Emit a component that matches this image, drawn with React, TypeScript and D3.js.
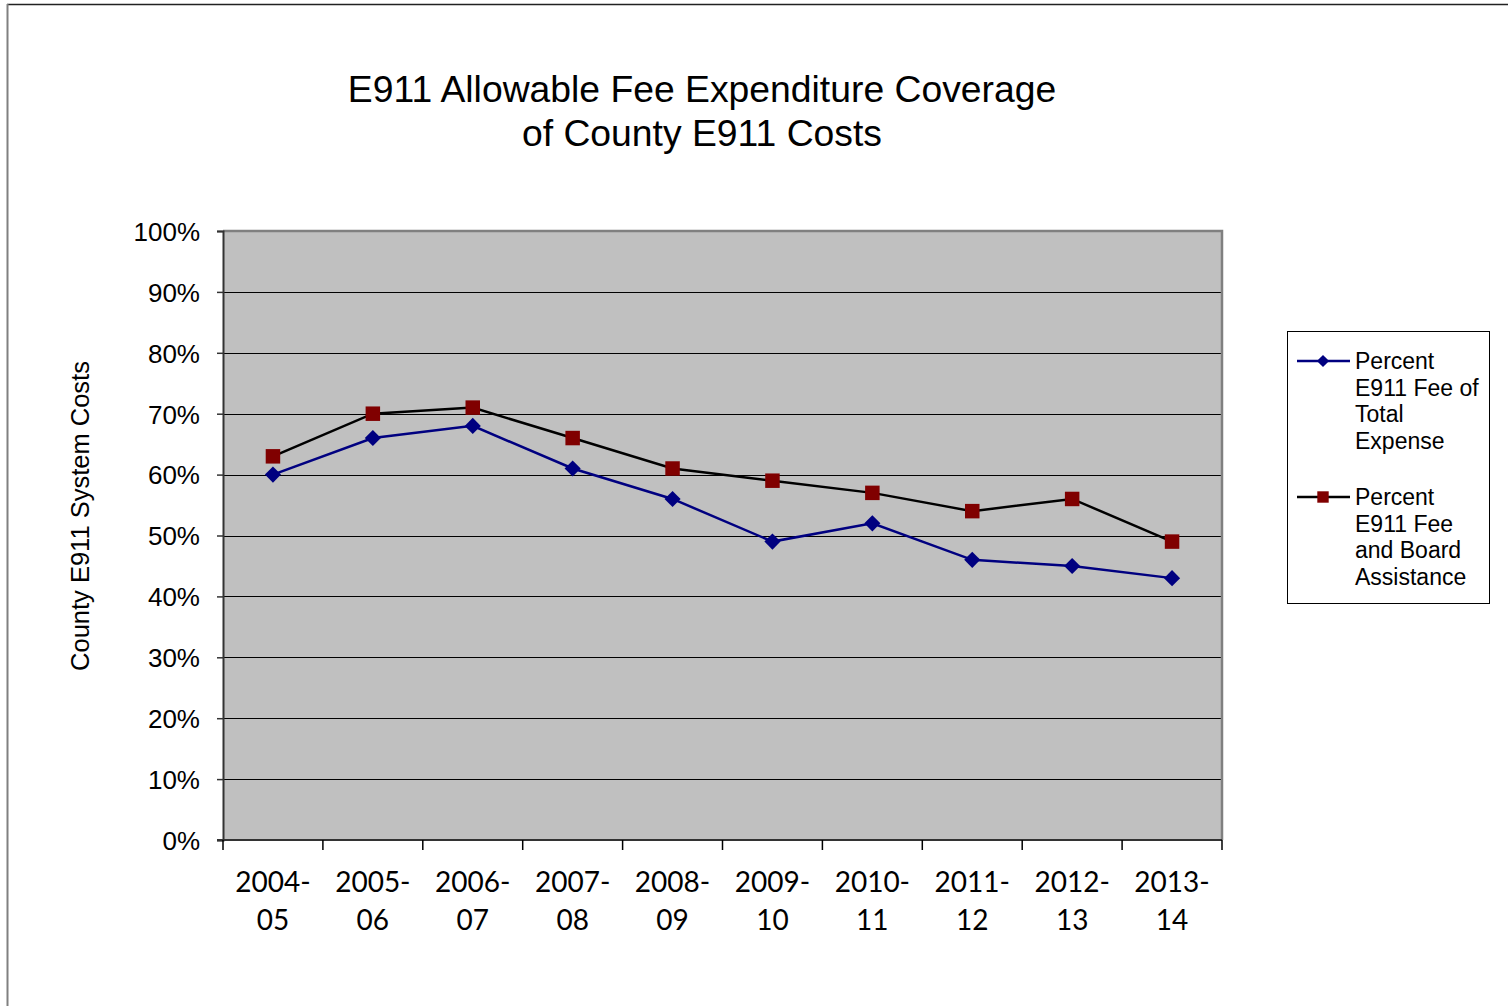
import { useEffect, useRef } from 'react';
import * as d3 from 'd3';

const categories = ['2004-05', '2005-06', '2006-07', '2007-08', '2008-09', '2009-10', '2010-11', '2011-12', '2012-13', '2013-14'];
const feeOfTotal = [0.60, 0.66, 0.68, 0.61, 0.56, 0.49, 0.52, 0.46, 0.45, 0.43];
const feeAndBoard = [0.63, 0.70, 0.71, 0.66, 0.61, 0.59, 0.57, 0.54, 0.56, 0.49];
const yTicks = [0, 0.1, 0.2, 0.3, 0.4, 0.5, 0.6, 0.7, 0.8, 0.9, 1.0];
const titleLines = ['E911 Allowable Fee Expenditure Coverage', 'of County E911 Costs'];
const legendBlue = ['Percent', 'E911 Fee of', 'Total', 'Expense'];
const legendRed = ['Percent', 'E911 Fee', 'and Board', 'Assistance'];

const ARIAL = '"Liberation Sans", Arial, sans-serif';
const CALIBRI = 'Lato, "Open Sans", sans-serif';

export default function App() {
  const svgRef = useRef<SVGSVGElement>(null);

  useEffect(() => {
    if (!svgRef.current) return;
    const width = 1508;
    const height = 1006;
    const plot = { left: 223, top: 231, right: 1222, bottom: 840 };

    d3.select(svgRef.current).selectAll('*').remove();
    const svg = d3.select(svgRef.current).attr('width', width).attr('height', height);

    svg.append('rect').attr('width', width).attr('height', height).attr('fill', 'white');

    // outer chart frame
    svg.append('line').attr('x1', 7).attr('x2', width).attr('y1', 4.5).attr('y2', 4.5)
      .attr('stroke', '#222').attr('stroke-width', 1.5);
    svg.append('line').attr('x1', 7.5).attr('x2', 7.5).attr('y1', 4).attr('y2', height)
      .attr('stroke', '#808080').attr('stroke-width', 2);

    // Title
    svg.append('text')
      .attr('text-anchor', 'middle')
      .style('font-family', ARIAL)
      .style('font-size', '37.3px')
      .style('fill', '#000')
      .selectAll('tspan')
      .data(titleLines)
      .join('tspan')
      .attr('x', 702)
      .attr('y', (d, i) => 102 + i * 44)
      .text(d => d);

    const xScale = d3.scaleBand().domain(categories).range([plot.left, plot.right]);
    const yScale = d3.scaleLinear().domain([0, 1]).range([plot.bottom, plot.top]);

    // plot area
    svg.append('rect')
      .attr('x', plot.left).attr('y', plot.top)
      .attr('width', plot.right - plot.left).attr('height', plot.bottom - plot.top)
      .attr('fill', '#c0c0c0');

    // gridlines
    svg.append('g')
      .selectAll('line')
      .data(yTicks.filter(d => d > 0 && d < 1))
      .join('line')
      .attr('x1', plot.left).attr('x2', plot.right)
      .attr('y1', d => Math.round(yScale(d)) + 0.5).attr('y2', d => Math.round(yScale(d)) + 0.5)
      .attr('stroke', '#000').attr('stroke-width', 1.2);

    // plot border top/right
    svg.append('path')
      .attr('d', `M${plot.left},${plot.top} H${plot.right} V${plot.bottom}`)
      .attr('fill', 'none').attr('stroke', '#808080').attr('stroke-width', 2.5);

    // Y axis
    const yAxis = svg.append('g')
      .attr('transform', `translate(${plot.left},0)`)
      .call(d3.axisLeft(yScale).tickValues(yTicks).tickFormat(d3.format('.0%')).tickSize(6).tickPadding(17));
    yAxis.select('.domain').attr('stroke', '#333').attr('stroke-width', 2);
    yAxis.selectAll('.tick line').attr('stroke', '#333').attr('stroke-width', 1.5);
    yAxis.selectAll('text')
      .style('font-family', ARIAL).style('font-size', '26px').style('fill', '#000')
      .attr('dy', '0.36em');

    // X axis
    const xAxis = svg.append('g')
      .attr('transform', `translate(0,${plot.bottom})`);
    xAxis.append('line')
      .attr('x1', plot.left - 6).attr('x2', plot.right)
      .attr('y1', 0).attr('y2', 0)
      .attr('stroke', '#333').attr('stroke-width', 2);
    const xTickPos = categories.map(c => xScale(c) as number).concat([plot.right]);
    xAxis.selectAll('.xtick')
      .data(xTickPos)
      .join('line')
      .attr('class', 'xtick')
      .attr('x1', d => d).attr('x2', d => d)
      .attr('y1', 0).attr('y2', 10)
      .attr('stroke', '#000').attr('stroke-width', 1.5);
    const xLabels = xAxis.selectAll('.xlabel')
      .data(categories)
      .join('text')
      .attr('class', 'xlabel')
      .attr('text-anchor', 'middle')
      .style('font-family', CALIBRI)
      .style('font-size', '28px')
      .style('fill', '#000');
    xLabels.append('tspan')
      .attr('x', d => (xScale(d) as number) + xScale.bandwidth() / 2)
      .attr('y', 52)
      .text(d => d.split('-')[0] + '-');
    xLabels.append('tspan')
      .attr('x', d => (xScale(d) as number) + xScale.bandwidth() / 2)
      .attr('y', 90)
      .text(d => d.split('-')[1]);

    // Y axis title
    svg.append('text')
      .attr('transform', 'rotate(-90)')
      .attr('x', -516)
      .attr('y', 89)
      .attr('text-anchor', 'middle')
      .style('font-family', ARIAL)
      .style('font-size', '25.5px')
      .style('fill', '#000')
      .text('County E911 System Costs');

    const cx = (i: number) => (xScale(categories[i]) as number) + xScale.bandwidth() / 2;
    const line = d3.line<number>()
      .x((d, i) => cx(i))
      .y(d => yScale(d));

    const series = [
      { values: feeAndBoard, stroke: '#000', marker: 'square', fill: '#800000' },
      { values: feeOfTotal, stroke: '#000080', marker: 'diamond', fill: '#000080' },
    ];

    const squareSym = d3.symbol().type(d3.symbolSquare).size(210);
    const diamondSym = d3.symbol().type(d3.symbolSquare).size(130);

    series.forEach(s => {
      svg.append('path')
        .datum(s.values)
        .attr('fill', 'none')
        .attr('stroke', s.stroke)
        .attr('stroke-width', 2.5)
        .attr('d', line);
    });
    series.forEach(s => {
      svg.append('g')
        .selectAll('path')
        .data(s.values)
        .join('path')
        .attr('transform', (d, i) => `translate(${cx(i)},${yScale(d)})${s.marker === 'diamond' ? ' rotate(45)' : ''}`)
        .attr('d', s.marker === 'diamond' ? diamondSym() : squareSym())
        .attr('fill', s.fill);
    });

    // Legend
    const legend = svg.append('g');
    legend.append('rect')
      .attr('x', 1287.5).attr('y', 331.5)
      .attr('width', 202).attr('height', 272)
      .attr('fill', 'white').attr('stroke', '#000').attr('stroke-width', 1);

    const legendItems = [
      { lines: legendBlue, stroke: '#000080', fill: '#000080', marker: 'diamond', y: 361 },
      { lines: legendRed, stroke: '#000', fill: '#800000', marker: 'square', y: 497 },
    ];
    legendItems.forEach(item => {
      legend.append('line')
        .attr('x1', 1297).attr('x2', 1350)
        .attr('y1', item.y).attr('y2', item.y)
        .attr('stroke', item.stroke).attr('stroke-width', 2.5);
      legend.append('path')
        .attr('transform', `translate(1323,${item.y})${item.marker === 'diamond' ? ' rotate(45)' : ''}`)
        .attr('d', item.marker === 'diamond' ? d3.symbol().type(d3.symbolSquare).size(75)() : d3.symbol().type(d3.symbolSquare).size(130)())
        .attr('fill', item.fill);
      legend.append('text')
        .style('font-family', ARIAL)
        .style('font-size', '23px')
        .style('fill', '#000')
        .selectAll('tspan')
        .data(item.lines)
        .join('tspan')
        .attr('x', 1355)
        .attr('y', (d, i) => item.y + 8 + i * 26.5)
        .text(d => d);
    });
  }, []);

  return (
    <div style={{ position: 'absolute', left: 0, top: 0 }}>
      <svg ref={svgRef}></svg>
    </div>
  );
}
